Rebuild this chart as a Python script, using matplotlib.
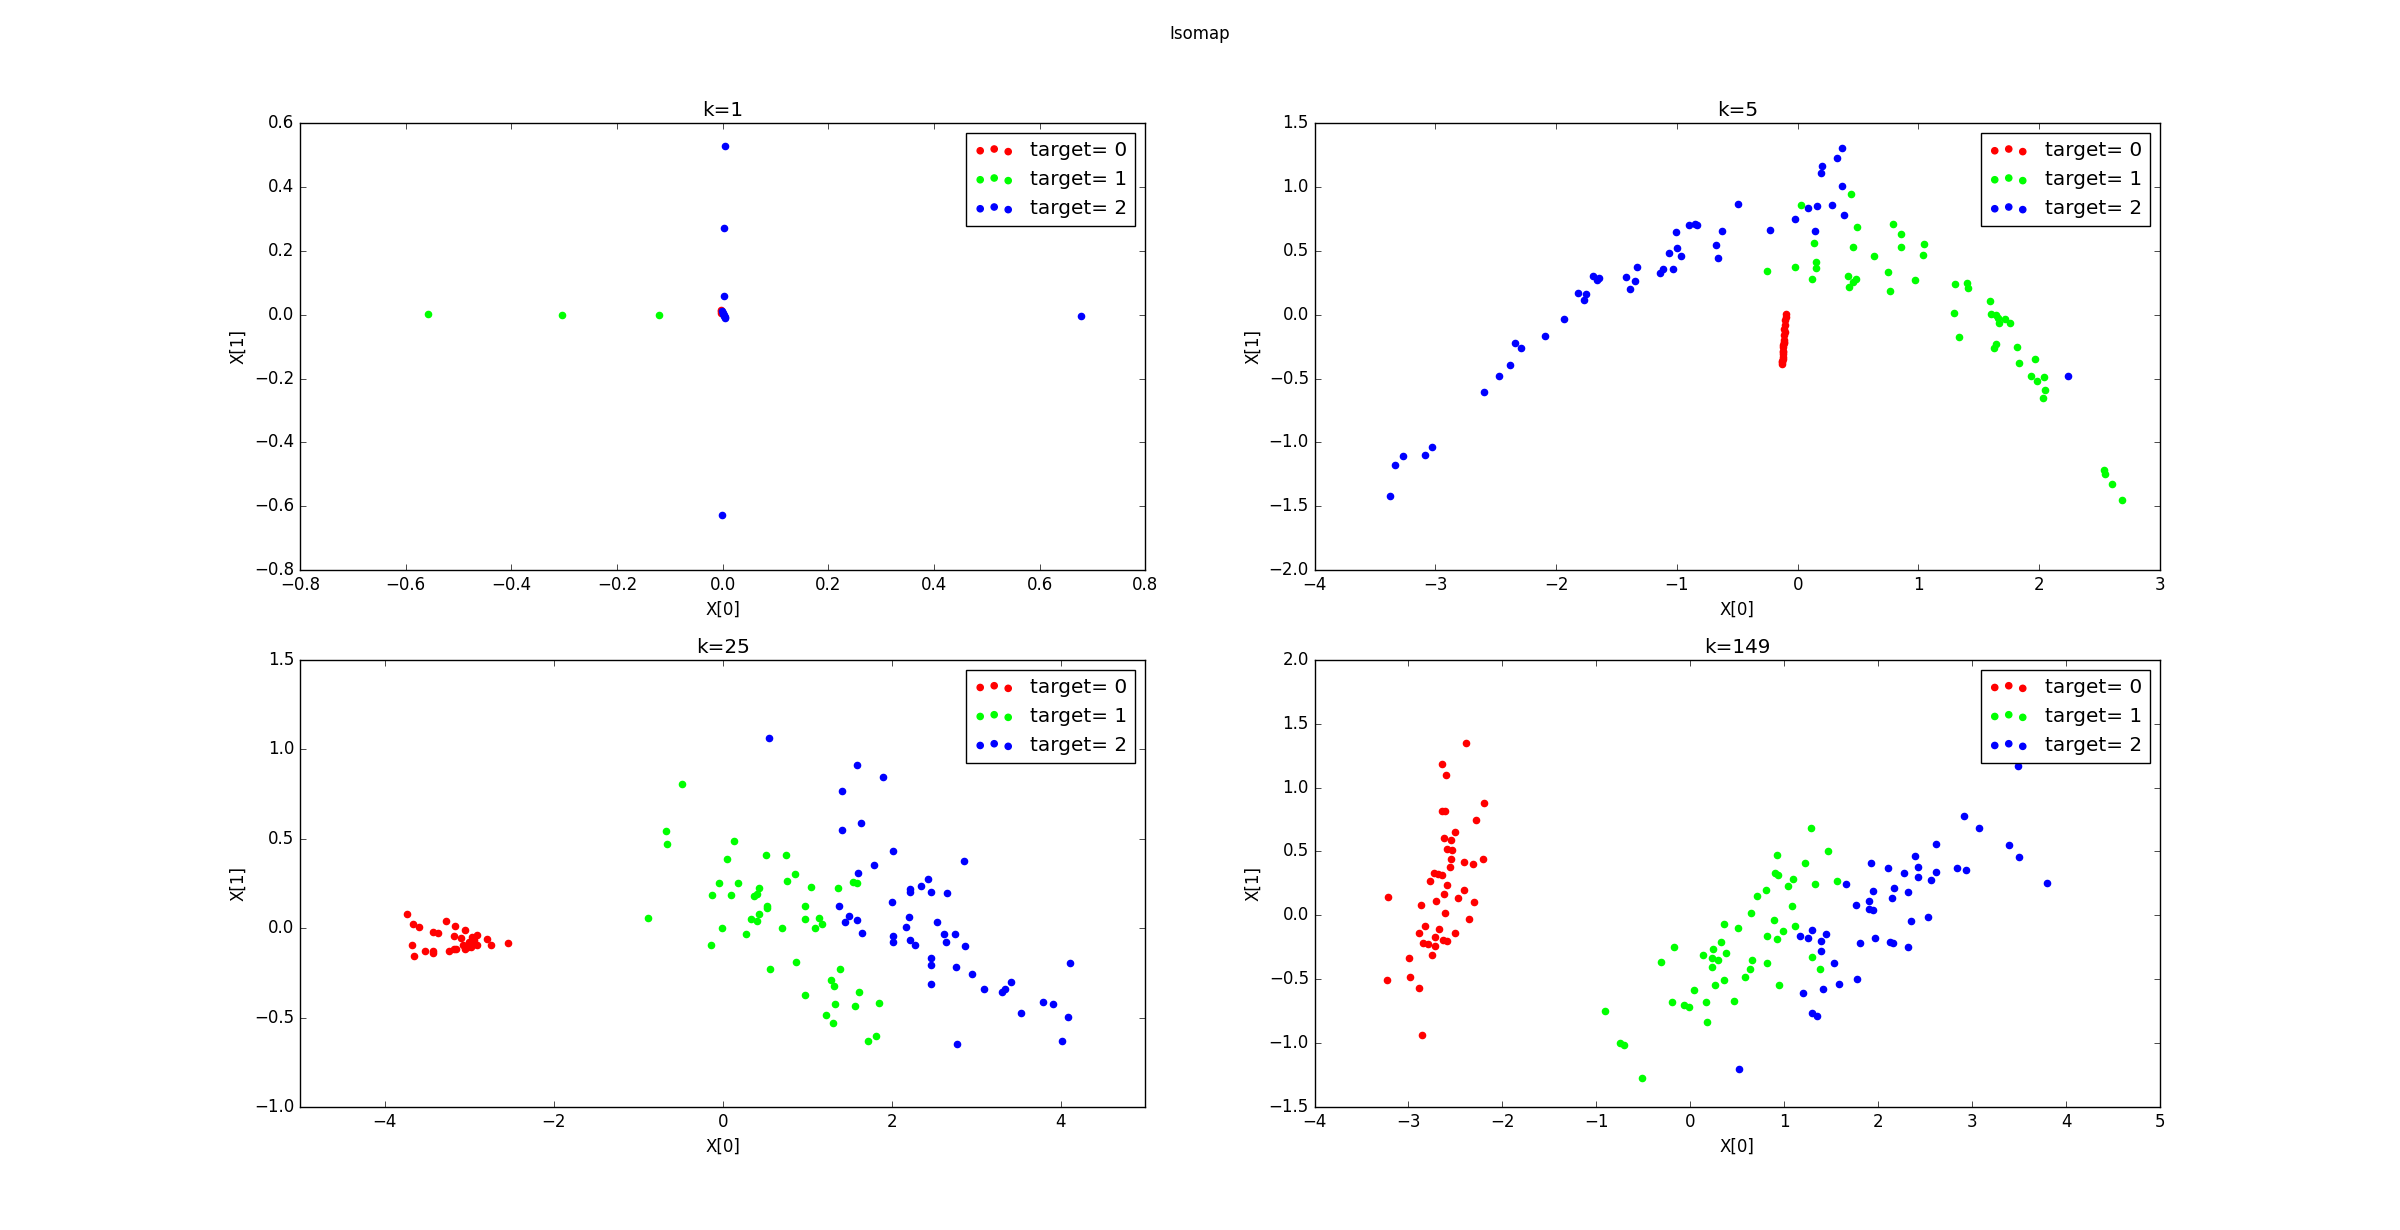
import numpy as np
import matplotlib
matplotlib.use("Agg")
import matplotlib.pyplot as plt

# neighbour counts used for each panel
ks = [1, 5, 25, 149]
labels = ["target= 0", "target= 1", "target= 2"]
colors = ["red", "lime", "blue"]

# k=1 embedding (x, y)
k1_t0 = [(-0.004, 0.016), (-0.003, 0.012), (-0.002, 0.009), (-0.003, 0.006), (-0.002, 0.004)]
k1_t1 = [(-0.557, 0.002), (-0.305, 0.0), (-0.121, 0.0)]
k1_t2 = [(0.004, 0.528), (0.002, 0.271), (0.002, 0.058), (0.678, -0.005), (-0.002, -0.626),
         (-0.002, 0.012), (0.0, 0.006), (0.002, 0.0), (0.003, -0.004), (0.004, -0.008),
         (0.005, -0.011), (0.001, 0.003)]

# k=5
k5_t0 = [(-0.094, 0.003), (-0.096, -0.02), (-0.102, -0.044), (-0.106, -0.08), (-0.111, -0.114),
         (-0.105, -0.132), (-0.110, -0.16), (-0.113, -0.198), (-0.116, -0.224), (-0.119, -0.255),
         (-0.119, -0.281), (-0.122, -0.305), (-0.124, -0.328), (-0.124, -0.349), (-0.127, -0.373),
         (-0.130, -0.388), (-0.115, -0.21), (-0.12, -0.29), (-0.118, -0.24), (-0.126, -0.36)]
k5_t1 = [(-0.251, 0.340), (-0.019, 0.374), (0.030, 0.858), (0.138, 0.560), (0.155, 0.411),
         (0.155, 0.364), (0.122, 0.278), (0.445, 0.944), (0.495, 0.685), (0.462, 0.528),
         (0.420, 0.304), (0.487, 0.278), (0.462, 0.257), (0.429, 0.215), (0.628, 0.458),
         (0.752, 0.333), (0.761, 0.184), (0.786, 0.709), (0.852, 0.630), (0.852, 0.528),
         (0.968, 0.270), (1.035, 0.466), (1.043, 0.552), (1.300, 0.239), (1.400, 0.246),
         (1.408, 0.207), (1.292, 0.011), (1.333, -0.177), (1.591, 0.105), (1.599, 0.003),
         (1.640, -0.004), (1.657, -0.028), (1.665, -0.067), (1.715, -0.036), (1.757, -0.067),
         (1.640, -0.232), (1.624, -0.263), (1.815, -0.255), (1.831, -0.380), (1.964, -0.349),
         (1.931, -0.482), (1.981, -0.521), (2.039, -0.490), (2.047, -0.592), (2.030, -0.655),
         (2.537, -1.219), (2.545, -1.250), (2.603, -1.328), (2.686, -1.454)]
k5_t2 = [(-3.375, -1.422), (-3.331, -1.180), (-3.264, -1.109), (-3.085, -1.101), (-3.025, -1.039),
         (-2.598, -0.608), (-2.474, -0.482), (-2.383, -0.396), (-2.339, -0.224), (-2.292, -0.263),
         (-2.094, -0.169), (-1.937, -0.036), (-1.821, 0.168), (-1.755, 0.163), (-1.771, 0.113),
         (-1.697, 0.304), (-1.661, 0.273), (-1.645, 0.286), (-1.424, 0.293), (-1.391, 0.199),
         (-1.350, 0.262), (-1.334, 0.372), (-1.138, 0.330), (-1.118, 0.356), (-1.036, 0.356),
         (-1.069, 0.481), (-1.003, 0.521), (-0.970, 0.458), (-1.011, 0.646), (-0.898, 0.701),
         (-0.851, 0.706), (-0.835, 0.701), (-0.672, 0.544), (-0.656, 0.442), (-0.623, 0.654),
         (-0.490, 0.865), (-0.230, 0.662), (-0.019, 0.748), (0.089, 0.834), (0.163, 0.850),
         (0.147, 0.654), (0.196, 1.108), (0.205, 1.163), (0.329, 1.226), (0.371, 1.304),
         (0.371, 1.006), (0.288, 0.858), (0.387, 0.779), (2.235, -0.482)]

# k=25
k25_t0 = [(-3.731, 0.078), (-3.660, 0.022), (-3.589, 0.004), (-3.672, -0.095), (-3.648, -0.156),
          (-3.518, -0.127), (-3.427, -0.020), (-3.364, -0.028), (-3.427, -0.127), (-3.423, -0.142),
          (-3.269, 0.039), (-3.162, 0.011), (-3.233, -0.128), (-3.178, -0.119), (-3.150, -0.115),
          (-3.178, -0.045), (-3.099, -0.056), (-3.043, -0.011), (-3.051, -0.115), (-3.012, -0.108),
          (-2.960, -0.048), (-2.901, -0.037), (-2.968, -0.074), (-2.929, -0.089), (-2.901, -0.097),
          (-2.976, -0.104), (-2.783, -0.061), (-2.735, -0.095), (-2.545, -0.082), (-3.071, -0.093),
          (-3.000, -0.078), (-2.941, -0.065)]
k25_t1 = [(-0.885, 0.056), (-0.672, 0.542), (-0.660, 0.469), (-0.482, 0.804), (-0.138, -0.095),
          (-0.126, 0.184), (-0.043, 0.251), (-0.008, 0.0), (0.047, 0.385), (0.134, 0.486),
          (0.095, 0.186), (0.181, 0.251), (0.276, -0.034), (0.331, 0.050), (0.370, 0.181),
          (0.410, 0.190), (0.430, 0.223), (0.406, 0.039), (0.430, 0.078), (0.516, 0.408),
          (0.524, 0.125), (0.524, 0.112), (0.560, -0.229), (0.701, 0.0), (0.749, 0.408),
          (0.761, 0.263), (0.855, 0.302), (0.867, -0.190), (0.973, 0.125), (0.973, 0.050),
          (0.973, -0.374), (1.044, 0.229), (1.092, 0.0), (1.139, 0.056), (1.174, 0.022),
          (1.222, -0.486), (1.281, -0.291), (1.316, -0.324), (1.328, -0.425), (1.304, -0.531),
          (1.364, 0.223), (1.387, -0.229), (1.545, 0.257), (1.592, 0.251), (1.565, -0.436),
          (1.612, -0.358), (1.718, -0.631), (1.813, -0.603), (1.848, -0.419)]
k25_t2 = [(0.548, 1.061), (1.588, 0.911), (1.896, 0.844), (1.411, 0.765), (1.411, 0.547),
          (1.635, 0.587), (2.014, 0.430), (1.789, 0.352), (1.600, 0.307), (2.853, 0.374),
          (1.375, 0.123), (1.494, 0.067), (1.446, 0.034), (1.588, 0.045), (1.647, -0.028),
          (2.002, 0.145), (2.014, -0.045), (2.014, -0.078), (2.167, 0.006), (2.203, 0.061),
          (2.215, 0.218), (2.215, 0.201), (2.345, 0.235), (2.428, 0.274), (2.463, 0.201),
          (2.652, 0.196), (2.215, -0.067), (2.274, -0.095), (2.534, 0.034), (2.617, -0.034),
          (2.640, -0.078), (2.747, -0.034), (2.865, -0.101), (2.463, -0.168), (2.463, -0.207),
          (2.463, -0.313), (2.759, -0.218), (2.948, -0.257), (3.090, -0.341), (3.302, -0.358),
          (3.338, -0.341), (3.409, -0.302), (3.527, -0.475), (3.783, -0.413), (3.901, -0.425),
          (4.083, -0.497), (4.012, -0.631), (4.106, -0.196), (2.770, -0.648)]

# k=149
k149_t0 = [(-2.386, 1.348), (-2.641, 1.183), (-2.599, 1.097), (-2.194, 0.878), (-2.641, 0.815),
           (-2.613, 0.815), (-2.279, 0.745), (-2.503, 0.650), (-2.620, 0.603), (-2.545, 0.588),
           (-2.588, 0.517), (-2.535, 0.509), (-2.545, 0.439), (-2.204, 0.439), (-2.407, 0.415),
           (-2.311, 0.400), (-2.556, 0.376), (-2.726, 0.329), (-2.684, 0.321), (-2.641, 0.313),
           (-2.769, 0.266), (-2.588, 0.235), (-3.216, 0.141), (-2.620, 0.165), (-2.407, 0.196),
           (-2.705, 0.110), (-2.471, 0.133), (-2.300, 0.102), (-2.865, 0.078), (-2.609, 0.016),
           (-2.354, -0.031), (-2.822, -0.086), (-2.673, -0.110), (-2.886, -0.141), (-2.503, -0.141),
           (-2.716, -0.172), (-2.630, -0.196), (-2.588, -0.204), (-2.843, -0.219), (-2.790, -0.227),
           (-2.716, -0.243), (-2.747, -0.313), (-2.993, -0.337), (-2.982, -0.486), (-3.227, -0.509),
           (-2.886, -0.572), (-2.854, -0.940)]
k149_t1 = [(-0.905, -0.752), (-0.745, -1.003), (-0.703, -1.011), (-0.511, -1.272), (-0.309, -0.368),
           (-0.170, -0.251), (-0.192, -0.682), (-0.064, -0.705), (-0.011, -0.721), (0.043, -0.588),
           (0.138, -0.313), (0.170, -0.682), (0.181, -0.831), (0.234, -0.337), (0.245, -0.266),
           (0.234, -0.408), (0.298, -0.353), (0.266, -0.549), (0.330, -0.212), (0.383, -0.298),
           (0.362, -0.071), (0.362, -0.509), (0.469, -0.674), (0.511, -0.102), (0.586, -0.486),
           (0.639, -0.423), (0.660, -0.353), (0.650, 0.016), (0.714, 0.149), (0.809, 0.196),
           (0.817, -0.165), (0.817, -0.376), (0.890, -0.039), (0.922, 0.470), (0.901, 0.329),
           (0.933, 0.313), (0.922, -0.188), (0.986, -0.125), (0.943, -0.549), (1.039, 0.227),
           (1.092, 0.282), (1.082, 0.071), (1.114, -0.086), (1.220, 0.408), (1.284, 0.682),
           (1.327, 0.243), (1.295, -0.329), (1.380, -0.423), (1.465, 0.502), (1.561, 0.266)]
k149_t2 = [(0.522, -1.199), (1.657, 0.243), (1.167, -0.165), (1.252, -0.180), (1.295, -0.118),
           (1.391, -0.204), (1.444, -0.149), (1.391, -0.282), (1.529, -0.376), (1.199, -0.611),
           (1.412, -0.580), (1.583, -0.541), (1.774, -0.502), (1.295, -0.768), (1.348, -0.784),
           (1.764, 0.078), (1.806, -0.219), (1.924, 0.408), (1.902, 0.115), (1.945, 0.188),
           (1.902, 0.047), (1.945, 0.039), (1.966, -0.180), (2.105, 0.368), (2.169, 0.212),
           (2.147, 0.133), (2.126, -0.212), (2.158, -0.219), (2.275, 0.329), (2.318, 0.180),
           (2.318, -0.251), (2.350, -0.047), (2.392, 0.462), (2.424, 0.376), (2.424, 0.298),
           (2.531, -0.016), (2.563, 0.274), (2.616, 0.556), (2.616, 0.337), (2.840, 0.368),
           (2.936, 0.353), (2.915, 0.776), (3.075, 0.682), (3.394, 0.549), (3.501, 0.455),
           (3.490, 1.168), (3.799, 0.251)]

panels = [
    (k1_t0, k1_t1, k1_t2),
    (k5_t0, k5_t1, k5_t2),
    (k25_t0, k25_t1, k25_t2),
    (k149_t0, k149_t1, k149_t2),
]
xlims = [(-0.8, 0.8), (-4, 3), (-5, 5), (-4, 5)]
ylims = [(-0.8, 0.6), (-2.0, 1.5), (-1.0, 1.5), (-1.5, 2.0)]

plt.style.use("classic")
fig = plt.figure(figsize=(24, 12.3), dpi=100, facecolor="white")

for i, k in enumerate(ks):
    ax = fig.add_subplot(2, 2, i + 1)
    for pts, label, color in zip(panels[i], labels, colors):
        arr = np.array(pts)
        ax.scatter(arr[:, 0], arr[:, 1], label=label, color=color)
    ax.set_xlim(*xlims[i])
    ax.set_ylim(*ylims[i])
    ax.set_xlabel("X[0]")
    ax.set_ylabel("X[1]")
    ax.set_title("k=%d" % k)
    ax.legend(loc="upper right")

fig.suptitle("Isomap")
fig.savefig("out.png", dpi=100, facecolor="white")
